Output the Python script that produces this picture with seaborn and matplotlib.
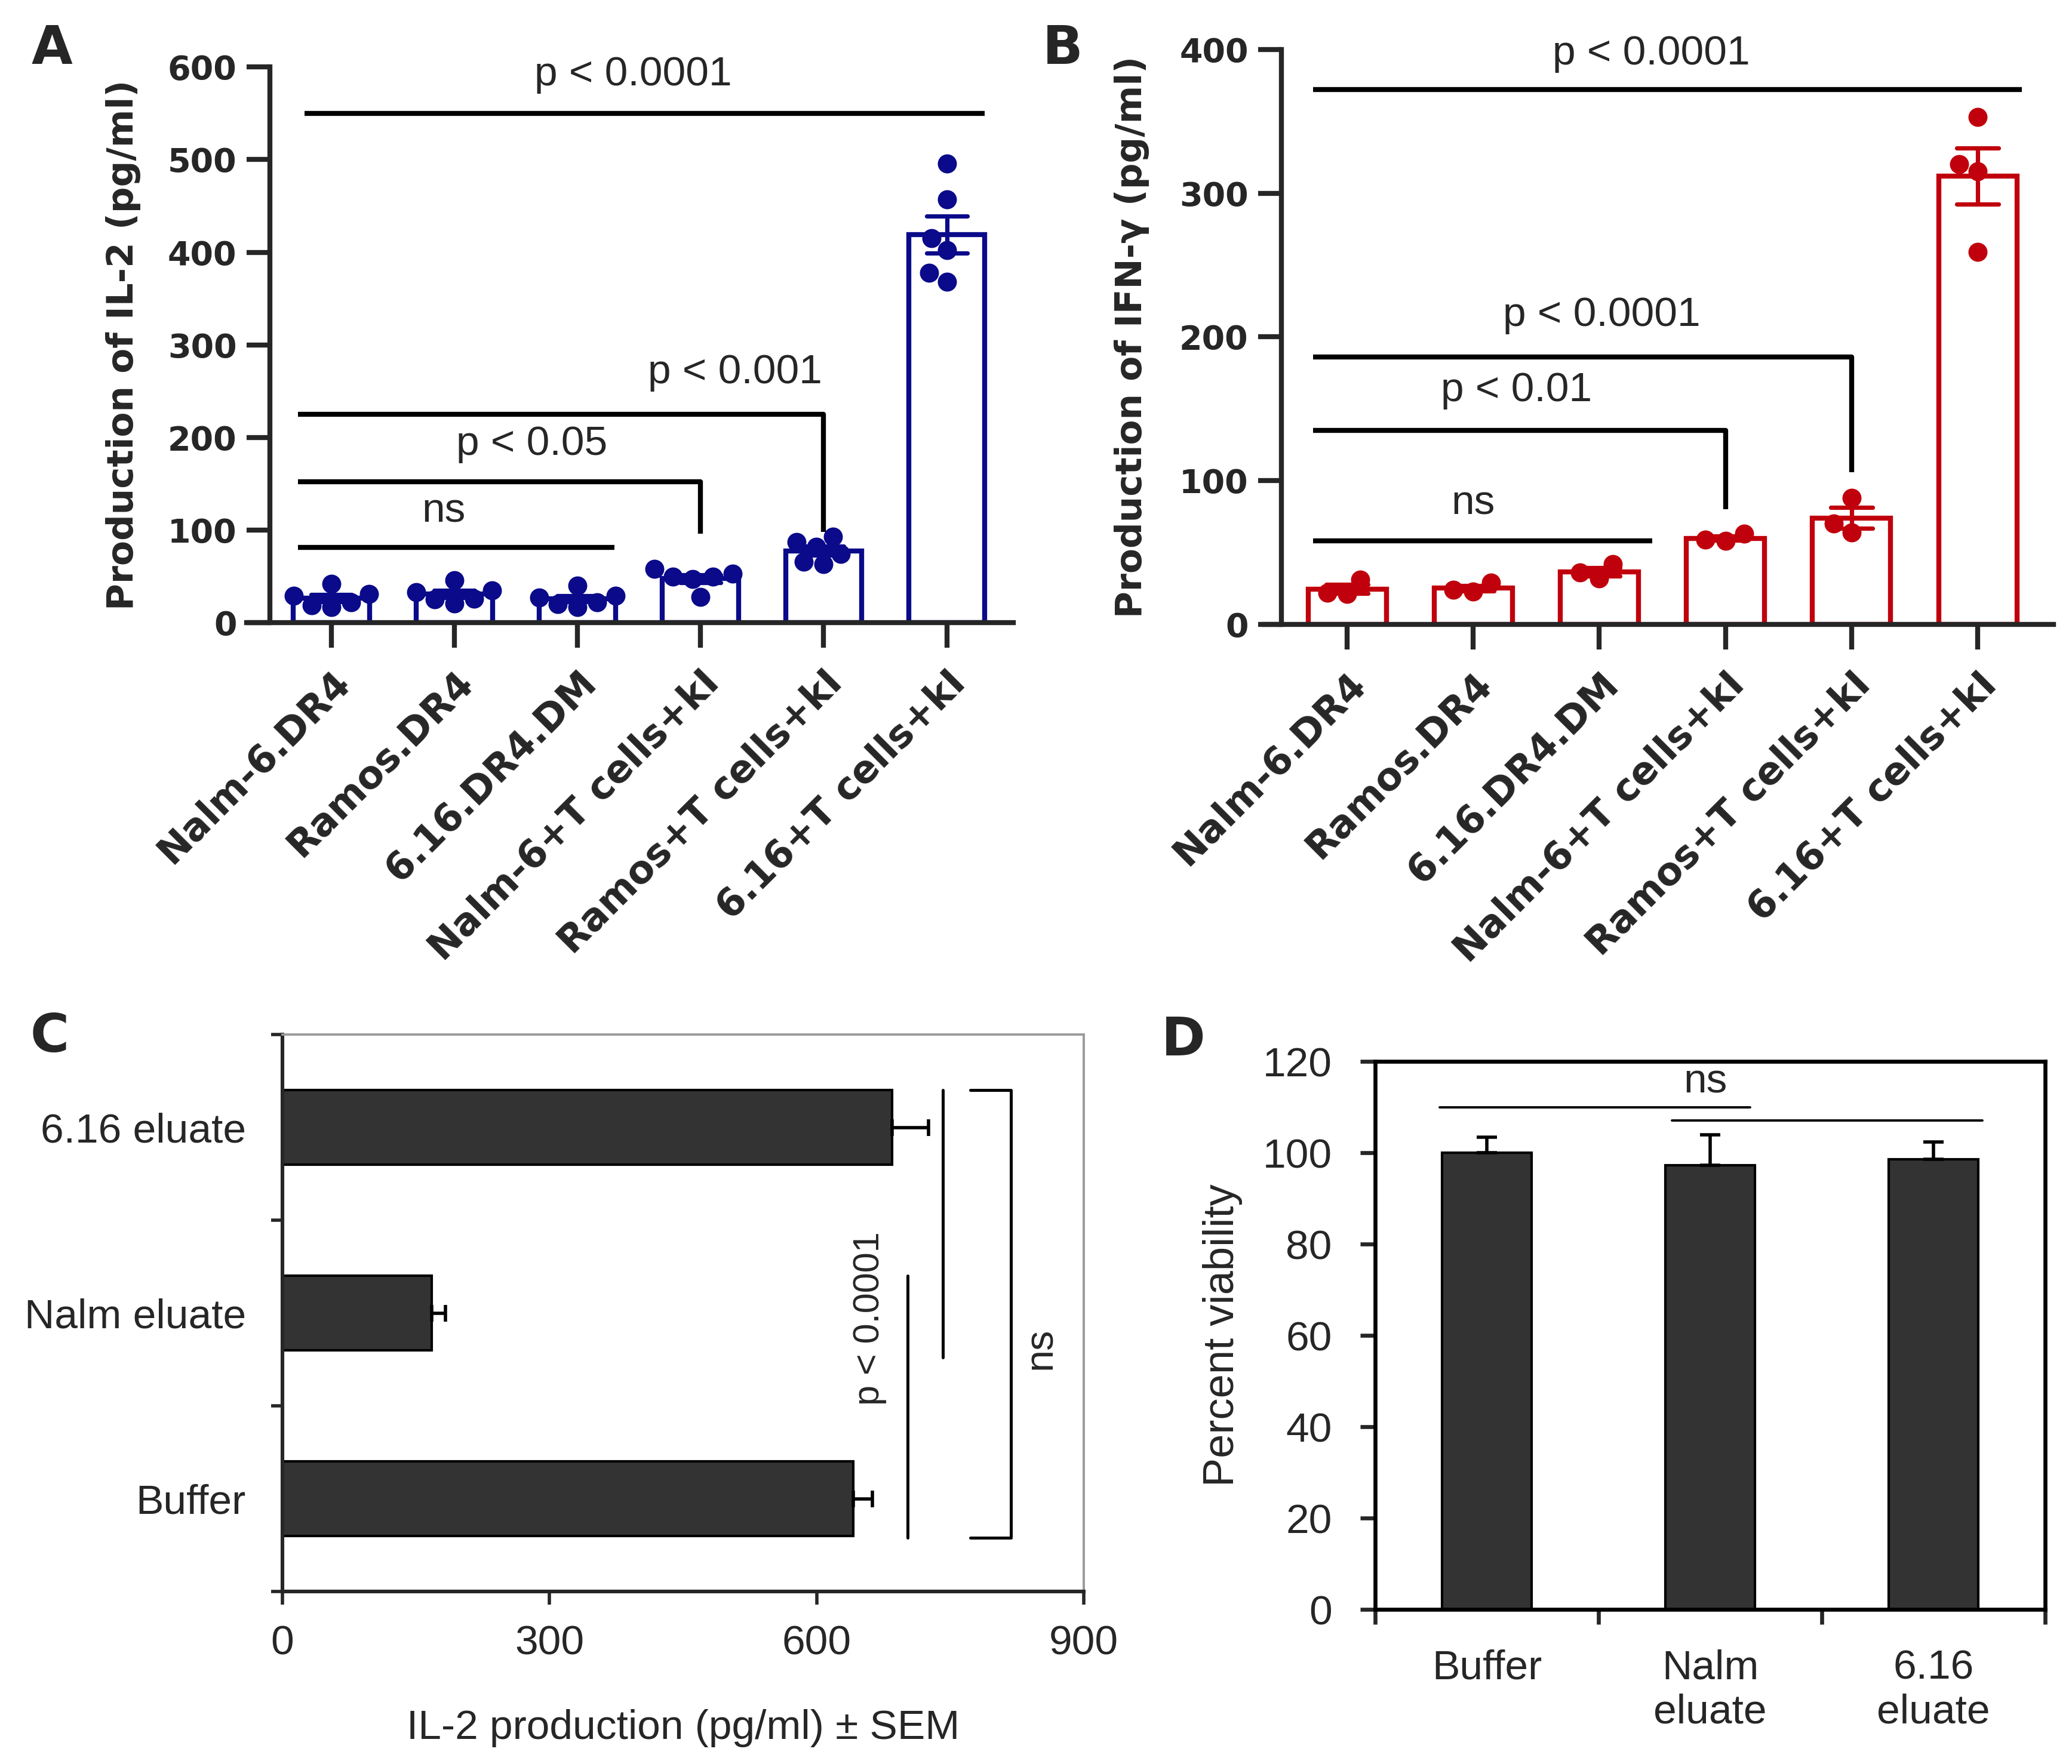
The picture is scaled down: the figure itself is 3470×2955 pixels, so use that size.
import numpy as np
import pandas as pd
import matplotlib
matplotlib.use("Agg")
import matplotlib.pyplot as plt
import seaborn as sns

# ---- data ----
groups = ["Nalm-6.DR4", "Ramos.DR4", "6.16.DR4.DM",
          "Nalm-6+T cells+kI", "Ramos+T cells+kI", "6.16+T cells+kI"]

# A : IL-2 (pg/ml), one value per replicate
il2_nalm6_dr4 = [22, 31, 19, 29, 42, 17]
il2_ramos_dr4 = [25, 33, 46, 35, 26, 21]
il2_616_dm = [20, 29, 22, 27, 40, 17]
il2_nalm6_t = [58, 50, 28, 47, 53, 50]
il2_ramos_t = [74, 87, 66, 82, 93, 63]
il2_616_t = [496, 457, 415, 402, 378, 368]

# B : IFN-gamma (pg/ml)
ifn_nalm6_dr4 = [21, 31, 22]
ifn_ramos_dr4 = [23, 29, 24]
ifn_616_dm = [32, 42, 36]
ifn_nalm6_t = [58, 63, 59]
ifn_ramos_t = [88, 64, 70]
ifn_616_t = [353, 320, 315, 259]

# C : IL-2 with eluates (mean, SEM)
c_labels = ["6.16 eluate", "Nalm eluate", "Buffer"]
c_mean = [685, 168, 641]
c_sem = [41, 15, 22]

# D : viability (mean, SEM)
d_labels = ["Buffer", "Nalm\neluate", "6.16\neluate"]
d_mean = [100, 97.3, 98.6]
d_sem = [3.4, 6.6, 3.8]

NAVY = "#0a0a8a"
RED = "#c0000c"
DARK = "#333333"


def long_table(series):
    rows = []
    for g, vals in zip(groups, series):
        rows += [(g, v) for v in vals]
    return pd.DataFrame(rows, columns=["group", "value"])


df_a = long_table([il2_nalm6_dr4, il2_ramos_dr4, il2_616_dm,
                   il2_nalm6_t, il2_ramos_t, il2_616_t])
df_b = long_table([ifn_nalm6_dr4, ifn_ramos_dr4, ifn_616_dm,
                   ifn_nalm6_t, ifn_ramos_t, ifn_616_t])

sns.set_style("ticks")
plt.rcParams["font.family"] = ["Liberation Sans", "DejaVu Sans"]

fig = plt.figure(figsize=(17.35, 14.775), dpi=200)
ax_a = fig.add_axes([0.119, 0.647, 0.370, 0.315])
ax_b = fig.add_axes([0.610, 0.646, 0.381, 0.326])
ax_c = fig.add_axes([0.1363, 0.0978, 0.3867, 0.3157])
ax_d = fig.add_axes([0.6637, 0.0876, 0.3233, 0.3107])


def scatter_bars(ax, df, color, ymax, ystep, ylabel, xlim, spine_x, labelpad):
    sns.barplot(data=df, x="group", y="value", order=groups, ax=ax,
                errorbar="se", fill=False, color=color, saturation=1,
                linewidth=3, width=0.62, capsize=0.33,
                err_kws={"color": color, "linewidth": 2.6})
    sns.swarmplot(data=df, x="group", y="value", order=groups, ax=ax,
                  color=color, size=11.5, zorder=3)
    ax.set_xlim(*xlim)
    ax.set_ylim(0, ymax)
    sns.despine(ax=ax)
    ax.spines["left"].set_position(("data", spine_x))
    for s in ["left", "bottom"]:
        ax.spines[s].set_linewidth(3)
    ax.set_yticks(range(0, ymax + 1, ystep), [str(v) for v in range(0, ymax + 1, ystep)],
                  fontsize=20, fontweight="bold", fontfamily="DejaVu Sans")
    ax.set_xticks(range(len(groups)), groups, rotation=45, ha="right", va="top",
                  rotation_mode="anchor", fontsize=23, fontweight="bold",
                  fontfamily="DejaVu Sans")
    ax.tick_params(axis="y", length=14, width=3, pad=6)
    ax.tick_params(axis="x", length=15, width=3, pad=10)
    ax.set_xlabel("")
    ax.set_ylabel(ylabel, fontsize=22, fontweight="bold", fontfamily="DejaVu Sans",
                  labelpad=labelpad)


def bracket(ax, x0, x1, y, drop=None, lw=3):
    xs, ys = [x0, x1], [y, y]
    if drop is not None:
        xs.append(x1)
        ys.append(drop)
    ax.plot(xs, ys, color="black", lw=lw, clip_on=False, solid_capstyle="butt")


def ptext(ax, x, y, s, size=25, **kw):
    ax.text(x, y, s, ha="center", va="center", fontsize=size, clip_on=False, **kw)


# ---- A ----
scatter_bars(ax_a, df_a, NAVY, 600, 100, "Production of IL-2 (pg/ml)",
             (-0.69, 5.54), -0.5, 16)
bracket(ax_a, -0.22, 5.31, 550)
ptext(ax_a, 2.45, 592, "p < 0.0001")
bracket(ax_a, -0.27, 4.0, 225, 98)
ptext(ax_a, 3.28, 270, "p < 0.001")
bracket(ax_a, -0.27, 3.0, 152, 96)
ptext(ax_a, 1.63, 193, "p < 0.05")
bracket(ax_a, -0.27, 2.3, 81)
ptext(ax_a, 0.91, 120, "ns")

# ---- B ----
scatter_bars(ax_b, df_b, RED, 400, 100, "Production of IFN-γ (pg/ml)",
             (-0.66, 5.6), -0.52, 18)
bracket(ax_b, -0.27, 5.35, 372)
ptext(ax_b, 2.41, 397, "p < 0.0001")
bracket(ax_b, -0.27, 4.0, 186, 106)
ptext(ax_b, 2.02, 215, "p < 0.0001")
bracket(ax_b, -0.27, 3.0, 135, 80)
ptext(ax_b, 1.34, 163, "p < 0.01")
bracket(ax_b, -0.27, 2.42, 58)
ptext(ax_b, 1.0, 84, "ns")

# ---- C ----
sns.barplot(x=c_mean, y=c_labels, orient="y", ax=ax_c, color=DARK, saturation=1,
            edgecolor="black", linewidth=1.5, width=0.4, errorbar=None)
ax_c.errorbar(c_mean, np.arange(len(c_labels)), xerr=[np.zeros(len(c_sem)), c_sem],
              fmt="none", ecolor="black", elinewidth=2, capsize=5, capthick=2)
ax_c.set_xlim(0, 900)
ax_c.set_ylim(2.5, -0.5)
ax_c.set_xticks([0, 300, 600, 900], ["0", "300", "600", "900"], fontsize=25)
ax_c.set_yticks(range(len(c_labels)), c_labels, fontsize=25)
ax_c.set_yticks(np.arange(-0.5, 3, 1), minor=True)
ax_c.tick_params(axis="y", which="major", length=0, pad=22)
ax_c.tick_params(axis="y", which="minor", length=7, width=2)
ax_c.tick_params(axis="x", length=8, width=2, pad=12)
for s in ["left", "bottom"]:
    ax_c.spines[s].set_linewidth(2.2)
for s in ["top", "right"]:
    ax_c.spines[s].set_color("#9a9a9a")
    ax_c.spines[s].set_linewidth(1.4)
ax_c.set_ylabel("")
ax_c.set_xlabel("IL-2 production (pg/ml) ± SEM", fontsize=25, labelpad=28)
ax_c.plot([742, 742], [-0.2, 1.24], color="black", lw=1.8, clip_on=False)
ax_c.plot([702, 702], [0.8, 2.21], color="black", lw=1.8, clip_on=False)
ax_c.plot([773, 818, 818, 773], [-0.2, -0.2, 2.21, 2.21], color="black", lw=1.8,
          clip_on=False)
ptext(ax_c, 660, 1.03, "p < 0.0001", size=22, rotation=90)
ptext(ax_c, 852, 1.19, "ns", size=24, rotation=90)

# ---- D ----
sns.barplot(x=d_labels, y=d_mean, ax=ax_d, color=DARK, saturation=1,
            edgecolor="black", linewidth=1.5, width=0.4, errorbar=None)
ax_d.errorbar(np.arange(len(d_labels)), d_mean, yerr=[np.zeros(len(d_sem)), d_sem],
              fmt="none", ecolor="black", elinewidth=2, capsize=6, capthick=2)
ax_d.set_xlim(-0.5, 2.5)
ax_d.set_ylim(0, 120)
ax_d.set_yticks(range(0, 121, 20), [str(v) for v in range(0, 121, 20)], fontsize=25)
ax_d.set_xticks(range(len(d_labels)), d_labels, fontsize=25)
ax_d.set_xticks(np.arange(-0.5, 3, 1), minor=True)
ax_d.tick_params(axis="x", which="major", length=0, pad=24)
ax_d.tick_params(axis="x", which="minor", length=9, width=2.4)
ax_d.tick_params(axis="y", length=9, width=2.4, pad=17)
for s in ax_d.spines.values():
    s.set_linewidth(2.4)
    s.set_color("black")
ax_d.set_xlabel("")
ax_d.set_ylabel("Percent viability", fontsize=26, labelpad=12)
ax_d.plot([-0.21, 1.18], [110, 110], color="black", lw=1.4)
ax_d.plot([0.83, 2.22], [107, 107], color="black", lw=1.4)
ptext(ax_d, 0.98, 115.5, "ns", size=25)

# panel letters
for letter, x, y in [("A", 0.025, 0.972), ("B", 0.513, 0.972),
                     ("C", 0.024, 0.412), ("D", 0.571, 0.410)]:
    fig.text(x, y, letter, ha="center", va="center", fontsize=32,
             fontweight="bold", fontfamily="DejaVu Sans")

fig.savefig("out.png", dpi=200, facecolor="white")
